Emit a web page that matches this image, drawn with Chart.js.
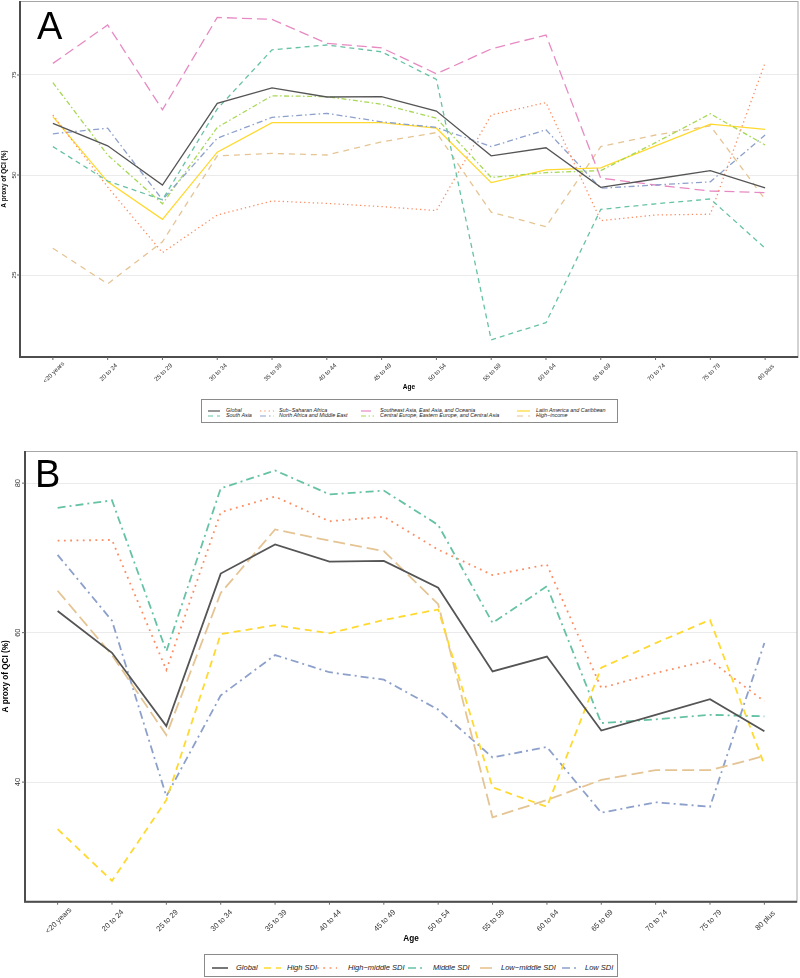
<!DOCTYPE html>
<html>
<head>
<meta charset="utf-8">
<script src="https://cdn.jsdelivr.net/npm/chart.js@4.4.0/dist/chart.umd.min.js"></script>
<style>
  body { margin: 0; background: #fff; font-family: "Liberation Sans", Arial, sans-serif; }
  #page { position: relative; width: 800px; height: 978px; overflow: hidden; }
  canvas { position: absolute; left: 0; }
  .tag { position: absolute; font-size: 38px; line-height: 38px; color: #000; z-index: 2; }
  .legendBox { position: absolute; border: 1px solid #8a8a8a; box-sizing: border-box; background: #fff; z-index: 2; }
  .lgText { position: absolute; font-style: italic; color: #1a1a1a; white-space: nowrap; z-index: 3; }
  .lgLine { position: absolute; z-index: 3; overflow: visible; }
</style>
</head>
<body>
<div id="page">
  <canvas id="chartA" width="800" height="450" style="top:0"></canvas>
  <canvas id="chartB" width="800" height="528" style="top:450px"></canvas>
  <div class="tag" style="left:37px; top:7px">A</div>
  <div class="tag" style="left:35px; top:455px">B</div>
  <div class="legendBox" style="left:201px; top:399px; width:417px; height:24px"></div>
  <div class="legendBox" style="left:204px; top:954px; width:414px; height:23px"></div>
</div>
<script>
// === DONNEES ===
const ageGroups = ["<20 years", "20 to 24", "25 to 29", "30 to 34", "35 to 39", "40 to 44", "45 to 49",
  "50 to 54", "55 to 59", "60 to 64", "65 to 69", "70 to 74", "75 to 79", "80 plus"];

// Global (same in both panels)
const globalQci     = [62.9, 57.3, 47.5, 67.9, 71.8, 69.5, 69.6, 66.0, 54.8, 56.8, 46.9, 49.0, 51.1, 46.8];

// Panel A : GBD regions
const southAsia     = [57.1, 48.5, 43.8, 66.5, 81.3, 82.5, 80.8, 73.9, 8.8, 13.1, 41.4, 42.8, 44.0, 31.7];
const subSaharan    = [65.0, 47.0, 30.6, 40.0, 43.5, 42.9, 42.1, 41.1, 65.0, 68.1, 38.6, 40.0, 40.2, 78.1];
const northAfrica   = [60.3, 61.7, 43.8, 59.2, 64.4, 65.4, 63.3, 61.9, 57.1, 61.3, 46.7, 47.5, 48.3, 60.0];
const southeastAsia = [77.9, 87.5, 66.3, 89.4, 88.9, 82.9, 81.8, 75.3, 81.5, 85.0, 49.2, 47.5, 46.0, 45.6];
const centralEurope = [73.1, 55.0, 42.8, 61.9, 69.8, 69.6, 67.7, 64.2, 49.4, 50.6, 51.1, 58.1, 65.3, 57.5];
const latinAmerica  = [64.6, 48.3, 38.9, 55.7, 63.1, 63.1, 63.1, 61.7, 48.1, 51.3, 51.8, 57.3, 62.7, 61.4];
const highIncome    = [31.7, 22.8, 33.3, 54.8, 55.4, 55.0, 58.3, 60.6, 40.7, 37.1, 57.1, 60.0, 62.3, 43.9];

// Panel B : SDI quintiles
const highSdi       = [33.7, 26.8, 37.6, 59.8, 61.0, 59.9, 61.7, 63.1, 39.3, 36.7, 55.3, 58.6, 61.7, 42.3];
const highMiddleSdi = [72.3, 72.4, 55.0, 76.1, 78.2, 74.9, 75.5, 71.1, 67.7, 69.1, 52.6, 54.6, 56.3, 50.8];
const middleSdi     = [76.7, 77.7, 57.5, 79.3, 81.7, 78.5, 79.0, 74.4, 61.3, 66.2, 47.9, 48.4, 49.0, 48.8];
const lowMiddleSdi  = [65.6, 57.0, 46.3, 65.3, 73.8, 72.3, 70.9, 63.8, 35.3, 37.6, 40.3, 41.6, 41.6, 43.5];
const lowSdi        = [70.4, 61.6, 38.1, 51.6, 57.0, 54.7, 53.7, 49.7, 43.3, 44.7, 35.9, 37.3, 36.7, 58.6];

const yTicksA = [25, 50, 75];
const yTicksB = [40, 60, 80];

// === SERIES ===
const regionSeries = [
  { label: "Global", data: globalQci, color: "#555555", dash: [] },
  { label: "South Asia", data: southAsia, color: "#66C2A5", dash: [5, 4] },
  { label: "Sub\u2212Saharan Africa", data: subSaharan, color: "#FC8D62", dash: [1.3, 3] },
  { label: "North Africa and Middle East", data: northAfrica, color: "#8DA0CB", dash: [6, 3, 1.5, 3] },
  { label: "Southeast Asia, East Asia, and Oceania", data: southeastAsia, color: "#E78AC3", dash: [10, 5] },
  { label: "Central Europe, Eastern Europe, and Central Asia", data: centralEurope, color: "#A6D854", dash: [5, 2.5, 1.5, 2.5] },
  { label: "Latin America and Caribbean", data: latinAmerica, color: "#FFD92F", dash: [] },
  { label: "High\u2212income", data: highIncome, color: "#E5C494", dash: [6, 5] }
];

const sdiSeries = [
  { label: "Global", data: globalQci, color: "#555555", dash: [] },
  { label: "High SDI", data: highSdi, color: "#FFD92F", dash: [7, 5] },
  { label: "High\u2212middle SDI", data: highMiddleSdi, color: "#FC8D62", dash: [1.8, 4.5] },
  { label: "Middle SDI", data: middleSdi, color: "#66C2A5", dash: [8, 4, 2, 4] },
  { label: "Low\u2212middle SDI", data: lowMiddleSdi, color: "#E5C494", dash: [12, 5] },
  { label: "Low SDI", data: lowSdi, color: "#8DA0CB", dash: [8, 4, 2, 4] }
];

// === CADRE, GRADUATIONS ===
const panelFrame = {
  id: "panelFrame",
  afterDraw(chart, args, o) {
    const { ctx, chartArea: a, scales: { x, y } } = chart;
    ctx.save();
    ctx.strokeStyle = "#a6a6a6";
    ctx.lineWidth = 1;
    ctx.strokeRect(a.left, a.top + 0.5, a.right - a.left, a.bottom - a.top);
    ctx.strokeStyle = "#4d4d4d";
    ctx.lineWidth = o.axisWidth;
    ctx.beginPath();
    ctx.moveTo(a.left, a.top);
    ctx.lineTo(a.left, a.bottom);
    ctx.lineTo(a.right, a.bottom);
    ctx.stroke();

    ctx.lineWidth = 1;
    ctx.strokeStyle = "#666";
    ctx.fillStyle = "#333";
    ctx.font = `${o.tickSize}px "Liberation Sans", Arial, sans-serif`;
    ctx.textAlign = "center";
    ctx.textBaseline = "middle";
    x.ticks.forEach(t => {
      const px = x.getPixelForValue(t.value);
      ctx.beginPath(); ctx.moveTo(px, a.bottom); ctx.lineTo(px, a.bottom + 3); ctx.stroke();
      ctx.save();
      ctx.translate(px + 1, a.bottom + o.xLabelDy);
      ctx.rotate(-Math.PI / 4);
      ctx.fillText(ageGroups[t.value], 0, 0);
      ctx.restore();
    });
    y.ticks.forEach(t => {
      const py = y.getPixelForValue(t.value);
      ctx.beginPath(); ctx.moveTo(a.left - 3, py); ctx.lineTo(a.left, py); ctx.stroke();
      ctx.save();
      ctx.translate(a.left - o.yLabelDx, py);
      ctx.rotate(-Math.PI / 2);
      ctx.fillText(String(t.value), 0, 0);
      ctx.restore();
    });
    ctx.restore();
  }
};

function makeChart(id, series, cfg) {
  return new Chart(document.getElementById(id), {
    type: "line",
    data: {
      datasets: series.map(s => ({
        label: s.label,
        data: s.data.map((v, i) => ({ x: i, y: v })),
        borderColor: s.color,
        borderDash: s.dash,
        borderWidth: cfg.lineWidth,
        pointRadius: 0,
        fill: false,
        tension: 0
      }))
    },
    options: {
      responsive: false,
      animation: false,
      layout: { padding: { top: 1, right: cfg.padRight, left: 0, bottom: 0 } },
      plugins: { legend: { display: false }, tooltip: { enabled: false }, panelFrame: cfg.frame },
      scales: {
        x: {
          type: "linear", min: -0.6, max: 13.6,
          afterBuildTicks: s => { s.ticks = ageGroups.map((_, i) => ({ value: i })); },
          afterFit: s => { s.height = cfg.xHeight; },
          grid: { display: false }, border: { display: false },
          ticks: { display: false },
          title: { display: true, text: "Age", color: "#000",
            font: { family: "Liberation Sans", size: cfg.titleSize, weight: "bold" },
            padding: { top: 0, bottom: cfg.xTitlePad } }
        },
        y: {
          min: cfg.yMin, max: cfg.yMax,
          afterBuildTicks: s => { s.ticks = cfg.yTicks.map(v => ({ value: v })); },
          afterFit: s => { s.width = cfg.yWidth; },
          grid: { color: "#ebebeb", lineWidth: 1, drawTicks: false }, border: { display: false },
          ticks: { display: false },
          title: { display: true, text: "A proxy of QCI (%)", color: "#000",
            font: { family: "Liberation Sans", size: cfg.titleSize, weight: "bold" },
            padding: { top: cfg.yTitlePad, bottom: 0 } }
        }
      }
    },
    plugins: [panelFrame]
  });
}

makeChart("chartA", regionSeries, {
  lineWidth: 1.3, padRight: 2, xHeight: 93, yWidth: 20, yMin: 4.5, yMax: 93.5, yTicks: yTicksA,
  titleSize: 6.5, xTitlePad: 58.4, yTitlePad: 0.6,
  frame: { axisWidth: 2, tickSize: 6.2, xLabelDy: 15.5, yLabelDx: 6 }
});

makeChart("chartB", sdiSeries, {
  lineWidth: 1.8, padRight: 3, xHeight: 76.3, yWidth: 25, yMin: 24, yMax: 84.3, yTicks: yTicksB,
  titleSize: 8.2, xTitlePad: 33.9, yTitlePad: 0.7,
  frame: { axisWidth: 2, tickSize: 7.5, xLabelDy: 19, yLabelDx: 7 }
});

// === LEGENDES ===
const page = document.getElementById("page");
function legendItem(s, lx1, lx2, tx, cy, fontSize, lw) {
  const svg = document.createElementNS("http://www.w3.org/2000/svg", "svg");
  svg.setAttribute("class", "lgLine");
  svg.setAttribute("width", lx2 - lx1);
  svg.setAttribute("height", 6);
  svg.style.left = lx1 + "px";
  svg.style.top = (cy - 3) + "px";
  const ln = document.createElementNS("http://www.w3.org/2000/svg", "line");
  ln.setAttribute("x1", 0); ln.setAttribute("x2", lx2 - lx1);
  ln.setAttribute("y1", 3); ln.setAttribute("y2", 3);
  ln.setAttribute("stroke", s.color);
  ln.setAttribute("stroke-width", lw);
  if (s.dash.length) ln.setAttribute("stroke-dasharray", s.dash.join(" "));
  svg.appendChild(ln);
  page.appendChild(svg);
  const d = document.createElement("div");
  d.className = "lgText";
  d.textContent = s.label;
  d.style.fontSize = fontSize + "px";
  d.style.lineHeight = (fontSize + 2) + "px";
  d.style.left = tx + "px";
  d.style.top = (cy - (fontSize + 2) / 2) + "px";
  page.appendChild(d);
}

// panel A: 4 columns x 2 rows, filled by column
const colsA = [[208, 220, 226], [260, 274, 279], [361, 374, 380], [517, 530, 536]];
const rowsA = [410.5, 415.8];
regionSeries.forEach((s, i) => {
  const c = colsA[Math.floor(i / 2)];
  legendItem(s, c[0], c[1], c[2], rowsA[i % 2], 5.4, 1.2);
});

// panel B: one row
const colsB = [[212, 228, 236], [264, 281, 287], [317, 337, 348], [408, 425, 433], [480, 496, 501], [562, 578, 585]];
sdiSeries.forEach((s, i) => {
  const c = colsB[i];
  legendItem(s, c[0], c[1], c[2], 967.8, 7.5, 1.6);
});
</script>
</body>
</html>
